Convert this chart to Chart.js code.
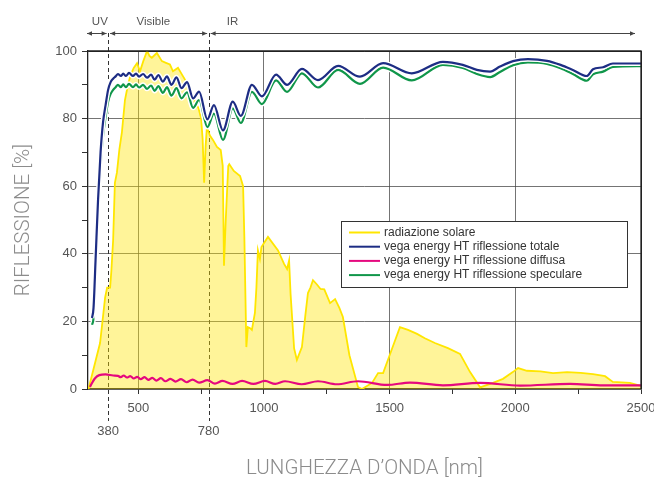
<!DOCTYPE html>
<html>
<head>
<meta charset="utf-8">
<script src="https://cdn.jsdelivr.net/npm/chart.js@4/dist/chart.umd.min.js"></script>
<style>
  html, body { margin: 0; padding: 0; background: #ffffff; }
  #wrap { width: 654px; height: 481px; }
</style>
</head>
<body>
<div id="wrap"><canvas id="chart" width="654" height="481"></canvas></div>
<script>
// Solar spectrum (relative intensity, %)
const solarWavelengths = [302, 348, 368, 376, 388, 393, 400, 407, 415, 425, 435, 447, 459, 470, 482, 495, 507, 520, 535, 545, 554, 574, 594, 610, 626, 638, 658, 674, 694, 718, 740, 750, 756, 762, 768, 773, 785, 797, 813, 828, 836, 841, 848, 858, 862, 880, 905, 917, 922, 930, 936, 945, 952, 964, 970, 976, 984, 990, 1016, 1056, 1080, 1092, 1100, 1106, 1120, 1131, 1151, 1165, 1175, 1185, 1195, 1210, 1225, 1240, 1263, 1283, 1300, 1314, 1340, 1374, 1390, 1430, 1454, 1474, 1500, 1541, 1573, 1609, 1640, 1680, 1732, 1780, 1820, 1860, 1911, 1951, 1990, 2011, 2046, 2100, 2150, 2206, 2260, 2309, 2357, 2388, 2456, 2500];
const solarValues = [0, 13.6, 27, 30, 30, 35, 44, 61, 64, 71, 76, 85.5, 90, 93, 95, 96.4, 94, 97, 100, 98.5, 98, 99.4, 97, 96.5, 96, 94, 95, 93, 90.5, 86.4, 83, 80, 74, 61, 72, 77.5, 75, 73.7, 71.6, 70.7, 66, 36.5, 50, 66, 66.5, 64.5, 63, 60, 45, 12.4, 18.3, 18, 17.5, 22.5, 30, 41, 38.5, 42, 45, 41, 37, 35.5, 38, 28, 12, 8.6, 12.4, 22, 28.4, 30, 32.2, 31, 29.6, 29.5, 25.4, 26.6, 24, 21.3, 10, 0.6, 0, 1.8, 4.7, 4.7, 10, 18.3, 17.5, 16.3, 15, 13.6, 12.1, 10.4, 5, 0.5, 1.8, 3, 5, 6.2, 5.4, 5.2, 4.7, 5, 4.8, 4.4, 3.8, 2.1, 1.8, 0.9];

// vega energy HT - total and specular reflection (%)
const reflWavelengths = [316, 322, 330, 340, 350, 360, 370, 380, 390, 400, 410, 419, 431, 440, 451, 463, 479, 491, 503, 519, 535, 551, 565, 580, 598, 614, 632, 652, 672, 694, 718, 742, 775, 801, 837, 876, 908, 952, 992, 1048, 1092, 1151, 1215, 1295, 1382, 1474, 1588, 1712, 1791, 1847, 1900, 1939, 1991, 2050, 2126, 2180, 2229, 2284, 2309, 2349, 2388, 2500];
const totalReflection = [21, 24, 38, 56, 70, 79, 84, 88.5, 90.8, 91.8, 92.5, 93.2, 92.6, 93.3, 92.6, 93.5, 92.6, 93.3, 92.4, 93.2, 92.1, 93, 91.5, 92.9, 90.9, 92.5, 90, 92.2, 89, 90.8, 86, 88, 79.8, 84, 76.5, 85, 80.8, 90, 86.6, 93, 90, 94.7, 91.4, 95.6, 92.4, 96.4, 93.4, 96.8, 95.9, 94.4, 93.9, 95.4, 97, 97.6, 97.1, 95.9, 94.4, 92.6, 94.6, 95.2, 96.3, 96.3];
const specularReflection = [19, 21, 34, 52, 66, 75, 80.5, 85, 87.3, 88.5, 89.3, 90, 89.3, 90.1, 89.3, 90.3, 89.3, 90.1, 89.2, 90, 88.8, 89.8, 88.2, 89.6, 87.6, 89.3, 86.8, 89, 86, 87.8, 83.2, 85.5, 77.5, 81.5, 73.7, 83, 78.7, 87.9, 84.3, 91.3, 87.9, 93.4, 89.2, 94.4, 90.3, 95.1, 91.3, 95.9, 95, 93.2, 92.3, 93.8, 95.8, 96.6, 96.2, 94.9, 93.2, 91.2, 93.1, 93.9, 95.3, 95.5];

// vega energy HT - diffuse reflection (%)
const diffuseWavelengths = [308, 316, 328, 345, 370, 400, 419, 430, 442, 455, 468, 482, 496, 510, 525, 540, 556, 572, 590, 608, 628, 648, 670, 692, 716, 742, 775, 805, 835, 875, 913, 958, 1004, 1045, 1084, 1150, 1215, 1290, 1374, 1490, 1581, 1712, 1860, 2019, 2218, 2350, 2500];
const diffuseReflection = [0.6, 1.8, 3.2, 4.1, 4.3, 4.0, 3.9, 3.5, 4.0, 3.4, 3.8, 3.1, 3.6, 2.9, 3.5, 2.7, 3.3, 2.5, 3.2, 2.3, 3.0, 2.2, 2.9, 2.0, 2.8, 1.9, 2.6, 1.6, 2.4, 1.5, 2.4, 1.5, 2.4, 1.5, 2.3, 1.4, 2.3, 1.4, 2.3, 1.2, 1.9, 1.1, 1.8, 1.0, 1.5, 1.1, 1.1];

// Axis ticks and labels
const xTickValues = [500, 750, 1000, 1250, 1500, 1750, 2000, 2250, 2500];
const yTickValues = [0, 10, 20, 30, 40, 50, 60, 70, 80, 90, 100];
const bandEdges = [380, 780];
const seriesLabels = [
  'radiazione solare',
  'vega energy HT riflessione totale',
  'vega energy HT riflessione diffusa',
  'vega energy HT riflessione speculare'
];
const xTitle = 'LUNGHEZZA D\u2019ONDA [nm]';
const yTitle = 'RIFLESSIONE [%]';

const COLORS = {
  solar: '#ffe600',
  solarFill: 'rgba(255, 228, 0, 0.40)',
  total: '#1d2d84',
  diffuse: '#e5087e',
  specular: '#10964a'
};

const pairs = (xs, ys) => xs.map((x, i) => ({ x: x, y: ys[i] }));

const FONT = '"Liberation Sans", Arial, Helvetica, sans-serif';
const TITLE_FONT = '300 20.5px Roboto, "Liberation Sans", sans-serif';

const decor = {
  id: 'decor',
  beforeDatasetsDraw(chart) {
    const { ctx } = chart;
    const xs = chart.scales.x;
    ctx.save();
    ctx.strokeStyle = '#333';
    ctx.lineWidth = 1;
    ctx.setLineDash([4, 3]);
    bandEdges.forEach(v => {
      const px = Math.round(xs.getPixelForValue(v)) + 0.5;
      ctx.beginPath();
      ctx.moveTo(px, 33);
      ctx.lineTo(px, 421);
      ctx.stroke();
    });
    ctx.restore();
  },
  afterDraw(chart) {
    const { ctx, chartArea } = chart;
    const xs = chart.scales.x;
    ctx.save();

    // wavelength band markers above the plot
    const arrow = (x1, x2, headLeft, headRight) => {
      const y = 33.5;
      ctx.strokeStyle = '#444';
      ctx.fillStyle = '#444';
      ctx.lineWidth = 1;
      ctx.setLineDash([]);
      ctx.beginPath();
      ctx.moveTo(x1, y);
      ctx.lineTo(x2, y);
      ctx.stroke();
      const head = (x, dir) => {
        ctx.beginPath();
        ctx.moveTo(x, y);
        ctx.lineTo(x - dir * 5, y - 2.2);
        ctx.lineTo(x - dir * 5, y + 2.2);
        ctx.closePath();
        ctx.fill();
      };
      if (headLeft) head(x1, -1);
      if (headRight) head(x2, 1);
    };
    const e1 = xs.getPixelForValue(bandEdges[0]);
    const e2 = xs.getPixelForValue(bandEdges[1]);
    arrow(chartArea.left - 1, e1 - 1.5, true, true);
    arrow(e1 + 2, e2 - 1.5, true, true);
    arrow(e2 + 2, chartArea.right - 6, true, true);

    ctx.font = '11.5px ' + FONT;
    ctx.fillStyle = '#555';
    ctx.textAlign = 'center';
    ctx.textBaseline = 'middle';
    ctx.fillText('UV', xs.getPixelForValue(347), 22);
    ctx.fillText('Visible', xs.getPixelForValue(560), 22);
    ctx.fillText('IR', xs.getPixelForValue(875), 22);

    // band edge labels under the axis
    ctx.font = '13px ' + FONT;
    bandEdges.forEach(v => {
      ctx.fillText(String(v), xs.getPixelForValue(v), 431);
    });

    // axis titles
    ctx.font = TITLE_FONT;
    ctx.fillStyle = '#8c8c8c';
    ctx.fillText(xTitle, (chartArea.left + chartArea.right) / 2, 469);
    ctx.save();
    ctx.translate(24, (chartArea.top + chartArea.bottom) / 2);
    ctx.rotate(-Math.PI / 2);
    ctx.fillText(yTitle, 0, 0);
    ctx.restore();

    // frame top and right
    ctx.strokeStyle = '#222';
    ctx.lineWidth = 1.3;
    ctx.beginPath();
    ctx.moveTo(chartArea.left, chartArea.top);
    ctx.lineTo(chartArea.right, chartArea.top);
    ctx.lineTo(chartArea.right, chartArea.bottom);
    ctx.stroke();

    // legend box
    const bx = 341.5, by = 221.5, bw = 286, bh = 66;
    ctx.fillStyle = '#ffffff';
    ctx.fillRect(bx, by, bw, bh);
    ctx.strokeStyle = '#333';
    ctx.lineWidth = 1;
    ctx.strokeRect(bx, by, bw, bh);
    const legendColors = [COLORS.solar, COLORS.total, COLORS.diffuse, COLORS.specular];
    ctx.font = '12px ' + FONT;
    ctx.textAlign = 'left';
    ctx.textBaseline = 'middle';
    seriesLabels.forEach((label, i) => {
      const y = 232.5 + i * 14.2;
      ctx.strokeStyle = legendColors[i];
      ctx.lineWidth = 2;
      ctx.beginPath();
      ctx.moveTo(349, y);
      ctx.lineTo(380, y);
      ctx.stroke();
      ctx.fillStyle = '#333';
      ctx.fillText(label, 384, y);
    });

    ctx.restore();
  }
};

const halo = (data, order) => ({
  label: '',
  data: data,
  borderColor: '#ffffff',
  borderWidth: 5,
  pointRadius: 0,
  fill: false,
  cubicInterpolationMode: 'monotone',
  order: order
});

new Chart(document.getElementById('chart'), {
  type: 'line',
  data: {
    datasets: [
      {
        label: seriesLabels[0],
        data: pairs(solarWavelengths, solarValues),
        borderColor: COLORS.solar,
        backgroundColor: COLORS.solarFill,
        borderWidth: 1.8,
        pointRadius: 0,
        fill: 'origin',
        tension: 0,
        order: 20
      },
      {
        label: seriesLabels[2],
        data: pairs(diffuseWavelengths, diffuseReflection),
        borderColor: COLORS.diffuse,
        borderWidth: 2.2,
        pointRadius: 0,
        fill: false,
        cubicInterpolationMode: 'monotone',
        order: 15
      },
      halo(pairs(reflWavelengths, specularReflection), 12),
      {
        label: seriesLabels[3],
        data: pairs(reflWavelengths, specularReflection),
        borderColor: COLORS.specular,
        borderWidth: 2.2,
        pointRadius: 0,
        fill: false,
        cubicInterpolationMode: 'monotone',
        order: 11
      },
      halo(pairs(reflWavelengths, totalReflection), 4),
      {
        label: seriesLabels[1],
        data: pairs(reflWavelengths, totalReflection),
        borderColor: COLORS.total,
        borderWidth: 2.2,
        pointRadius: 0,
        fill: false,
        cubicInterpolationMode: 'monotone',
        order: 3
      }
    ]
  },
  options: {
    responsive: false,
    animation: false,
    devicePixelRatio: 1,
    layout: { padding: { top: 51, right: 13, left: 0, bottom: 0 } },
    plugins: {
      legend: { display: false },
      title: { display: false },
      tooltip: { enabled: false }
    },
    scales: {
      x: {
        type: 'linear',
        min: 300,
        max: 2500,
        afterBuildTicks: (scale) => { scale.ticks = xTickValues.map(v => ({ value: v })); },
        afterFit: (scale) => { scale.height = 92; scale.paddingLeft = 0; scale.paddingRight = 0; },
        ticks: {
          autoSkip: false,
          maxRotation: 0,
          padding: 7,
          color: '#555',
          font: { family: FONT, size: 13 },
          callback: (v) => (v % 500 === 0 ? String(v) : '')
        },
        grid: {
          color: (c) => (c.tick && c.tick.value === 2500 ? '#222' : (c.tick && c.tick.value % 500 === 0 ? 'rgba(70,70,70,0.75)' : 'rgba(0,0,0,0)')),
          tickColor: '#333',
          tickLength: 5,
          lineWidth: 1
        },
        border: { color: '#222', width: 1.3 }
      },
      y: {
        type: 'linear',
        min: 0,
        max: 100,
        afterBuildTicks: (scale) => { scale.ticks = yTickValues.map(v => ({ value: v })); },
        afterFit: (scale) => { scale.width = 88; scale.paddingTop = 0; scale.paddingBottom = 0; },
        ticks: {
          autoSkip: false,
          padding: 5,
          color: '#555',
          font: { family: FONT, size: 13 },
          callback: (v) => (v % 20 === 0 ? String(v) : '')
        },
        grid: {
          color: (c) => (c.tick && c.tick.value === 100 ? '#222' : (c.tick && c.tick.value % 20 === 0 ? 'rgba(70,70,70,0.75)' : 'rgba(0,0,0,0)')),
          tickColor: '#333',
          tickLength: 6,
          lineWidth: 1
        },
        border: { color: '#222', width: 1.3 }
      }
    }
  },
  plugins: [decor]
});
</script>
</body>
</html>
